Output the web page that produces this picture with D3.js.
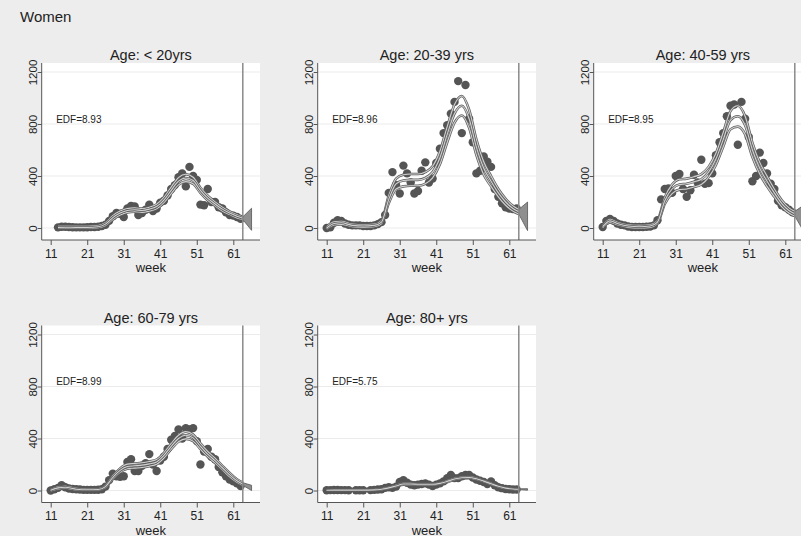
<!DOCTYPE html>
<html>
<head>
<meta charset="utf-8">
<script src="https://cdn.jsdelivr.net/npm/d3@7"></script>
<style>
body { margin: 0; background: #ededed; }
svg { display: block; font-family: "Liberation Sans", Arial, Helvetica, sans-serif; }
</style>
</head>
<body>
<svg width="801" height="536"></svg>
<script>
// data
var titles = ['Age: < 20yrs', 'Age: 20-39 yrs', 'Age: 40-59 yrs', 'Age: 60-79 yrs', 'Age: 80+ yrs'];
var edf = ['8.93', '8.96', '8.95', '8.99', '5.75'];
var xTicks = [11, 21, 31, 41, 51, 61];
var yTicks = [0, 400, 800, 1200];
var cutoffWeek = 63.6;

var weeks = [11,12,13,14,15,16,17,18,19,20,21,22,23,24,25,26,27,28,29,30,31,32,33,34,35,36,37,
             38,39,40,41,42,43,44,45,46,47,48,49,50,51,52,53,54,55,56,57,58,59,60,61,62,63];

var cases1 = [null,null,5,10,10,8,6,5,5,5,6,8,8,10,15,25,55,90,115,110,85,150,170,165,100,115,140,
              180,130,150,195,210,250,300,330,390,420,320,470,400,370,180,175,300,200,200,160,150,120,100,95,85,70];
var cases2 = [0,5,40,60,55,35,25,20,20,20,15,15,15,20,30,45,100,270,430,330,265,480,420,350,265,285,440,
              505,350,380,500,610,730,790,880,970,1130,730,1100,840,660,420,440,550,510,470,300,240,190,160,150,145,150];
var cases3 = [8,55,70,55,35,25,20,12,8,8,8,8,10,12,20,60,220,300,305,270,400,415,300,240,290,410,350,
              525,340,345,420,560,660,730,860,940,950,640,970,840,700,360,400,580,500,420,340,300,210,175,160,140,120];
var cases4 = [0,10,20,40,25,15,12,10,8,5,5,5,5,6,10,30,80,130,110,105,110,220,240,150,150,190,210,
              280,200,150,230,260,320,390,420,470,400,480,470,480,380,200,300,320,260,240,180,140,110,85,70,55,35];
var cases5 = [2,3,4,4,3,3,2,null,2,2,2,null,3,5,8,10,20,25,20,30,65,80,60,45,40,45,50,
              55,45,35,45,55,70,95,120,95,95,110,120,120,100,85,75,65,50,70,40,25,18,12,10,8,8];

// fitted curve and half width of the band at these weeks
var fitWeeks = [11,13,15,18,21,24,26,28,30,32,34,36,38,40,42,44,46,48,50,52,54,56,58,60,62,63.6,66];

var fit1 = [null,5,6,5,5,10,30,80,115,135,140,135,145,165,215,290,360,385,365,290,230,185,145,115,90,75,67];
var hw1  = [null,8,8,8,8,8,10,15,15,15,15,15,15,18,20,25,28,28,25,20,18,15,15,12,12,10,85];
var fit2 = [0,35,40,20,15,20,45,220,340,365,370,370,385,430,540,720,880,940,840,620,460,360,270,200,150,125,90];
var hw2  = [8,12,12,10,10,10,12,30,40,45,45,45,45,45,50,60,70,75,70,60,50,40,30,25,20,18,110];
var fit3 = [10,55,35,15,10,15,45,210,300,335,340,355,375,430,530,680,830,860,790,600,460,360,270,190,135,110,75];
var hw3  = [8,12,10,10,10,10,12,25,35,40,40,40,40,40,45,55,70,80,70,55,45,40,30,25,20,18,100];
var fit4 = [2,20,25,10,6,8,30,100,155,185,190,195,205,220,270,340,400,425,405,340,280,230,175,120,75,50,20];
var hw4  = [5,8,8,6,5,5,8,12,15,18,18,18,18,18,20,22,25,28,25,22,20,18,15,15,12,10,20];
var fit5 = [2,3,3,3,3,5,10,20,35,50,50,48,48,48,55,70,88,98,100,90,72,52,32,18,12,10,8];
var hw5  = [2,2,2,2,2,3,3,4,5,5,5,5,5,5,5,6,6,6,6,6,5,5,4,3,3,3,6];

var cases = [cases1, cases2, cases3, cases4, cases5];
var fits = [fit1, fit2, fit3, fit4, fit5];
var hws = [hw1, hw2, hw3, hw4, hw5];

// layout
var colW = 276, rowH = 262.5;
var plotL = 41.7, plotR = 260, plotT = 63, plotB = 240;
var x = d3.scaleLinear().domain([11, 61]).range([50.7, 233.3]);
var y = d3.scaleLinear().domain([0, 1200]).range([228, 72]);

var svg = d3.select("svg");
svg.append("rect").attr("width", 801).attr("height", 536).attr("fill", "#ededed");
svg.append("text")
    .attr("x", 20).attr("y", 22)
    .attr("font-size", 15).attr("fill", "#222")
    .text("Women");

var line = d3.line()
    .defined(function(d) { return d.v != null; })
    .x(function(d) { return x(d.w); })
    .y(function(d) { return y(d.v); })
    .curve(d3.curveMonotoneX);

var area = d3.area()
    .x(function(d) { return x(d.w); })
    .y0(function(d) { return y(d.lo); })
    .y1(function(d) { return y(d.hi); });

titles.forEach(function(title, i) {
    var col = i % 3, row = Math.floor(i / 3);
    var g = svg.append("g").attr("transform", "translate(" + (col * colW) + "," + (row * rowH) + ")");

    g.append("rect")
        .attr("x", plotL).attr("y", plotT)
        .attr("width", plotR - plotL).attr("height", plotB - plotT)
        .attr("fill", "#fff");

    g.selectAll(".grid")
        .data(yTicks)
        .enter()
        .append("line")
        .attr("x1", plotL).attr("x2", plotR)
        .attr("y1", function(d) { return y(d); })
        .attr("y2", function(d) { return y(d); })
        .attr("stroke", "#ebebeb");

    // observed counts
    var pts = weeks.map(function(w, j) { return { w: w, v: cases[i][j] }; })
        .filter(function(d) { return d.v != null; });
    g.selectAll("circle")
        .data(pts)
        .enter()
        .append("circle")
        .attr("cx", function(d) { return x(d.w); })
        .attr("cy", function(d) { return y(d.v); })
        .attr("r", 4.2)
        .attr("fill", "#555");

    // fit and band
    var knots = fitWeeks.map(function(w, j) {
        var f = fits[i][j], h = hws[i][j];
        return { w: w, v: f, lo: f == null ? null : f - h, hi: f == null ? null : f + h };
    });
    var inside = knots.filter(function(d) { return d.w <= cutoffWeek; });
    var beyond = knots.filter(function(d) { return d.w >= cutoffWeek; });

    g.append("path")
        .attr("d", area(beyond))
        .attr("fill", "#8f8f8f")
        .attr("stroke", "#555")
        .attr("stroke-width", 0.8);

    ["hi", "lo", "v"].forEach(function(k) {
        var ser = inside.map(function(d) { return { w: d.w, v: d[k] }; });
        g.append("path").attr("d", line(ser))
            .attr("fill", "none").attr("stroke", "#5e5e5e").attr("stroke-width", 2.6);
        g.append("path").attr("d", line(ser))
            .attr("fill", "none").attr("stroke", "#d2d2d2").attr("stroke-width", 1.1);
    });

    g.append("line")
        .attr("x1", x(cutoffWeek)).attr("x2", x(cutoffWeek))
        .attr("y1", plotT).attr("y2", plotB)
        .attr("stroke", "#8a8a8a")
        .attr("stroke-width", 1.5);

    // axes
    var ay = g.append("g")
        .attr("transform", "translate(" + plotL + ",0)")
        .call(d3.axisLeft(y).tickValues(yTicks).tickSize(4).tickFormat(d3.format("d")));
    ay.select(".domain").remove();
    ay.selectAll("line").attr("stroke", "#555");
    ay.selectAll("text")
        .attr("x", 0).attr("y", -5).attr("dy", 0)
        .attr("text-anchor", "middle")
        .attr("transform", "rotate(-90)")
        .attr("font-size", 11.5).attr("fill", "#222")
        .attr("font-family", "Liberation Sans, Arial, sans-serif");
    g.append("line")
        .attr("x1", plotL).attr("x2", plotL)
        .attr("y1", plotT).attr("y2", plotB)
        .attr("stroke", "#555");

    var ax = g.append("g")
        .attr("transform", "translate(0," + plotB + ")")
        .call(d3.axisBottom(x).tickValues(xTicks).tickSize(5).tickPadding(4));
    ax.select(".domain").remove();
    ax.selectAll("line").attr("stroke", "#555");
    ax.selectAll("text")
        .attr("font-size", 12).attr("fill", "#222")
        .attr("font-family", "Liberation Sans, Arial, sans-serif");
    g.append("line")
        .attr("x1", plotL).attr("x2", plotR)
        .attr("y1", plotB).attr("y2", plotB)
        .attr("stroke", "#555");

    g.append("text")
        .attr("x", (plotL + plotR) / 2).attr("y", plotB + 32)
        .attr("text-anchor", "middle")
        .attr("font-size", 13).attr("fill", "#222")
        .text("week");

    g.append("text")
        .attr("x", (plotL + plotR) / 2).attr("y", 60)
        .attr("text-anchor", "middle")
        .attr("font-size", 14.5).attr("fill", "#222")
        .text(title);

    g.append("text")
        .attr("x", x(12.5)).attr("y", y(810))
        .attr("font-size", 10).attr("fill", "#222")
        .text("EDF=" + edf[i]);
});
</script>
</body>
</html>
